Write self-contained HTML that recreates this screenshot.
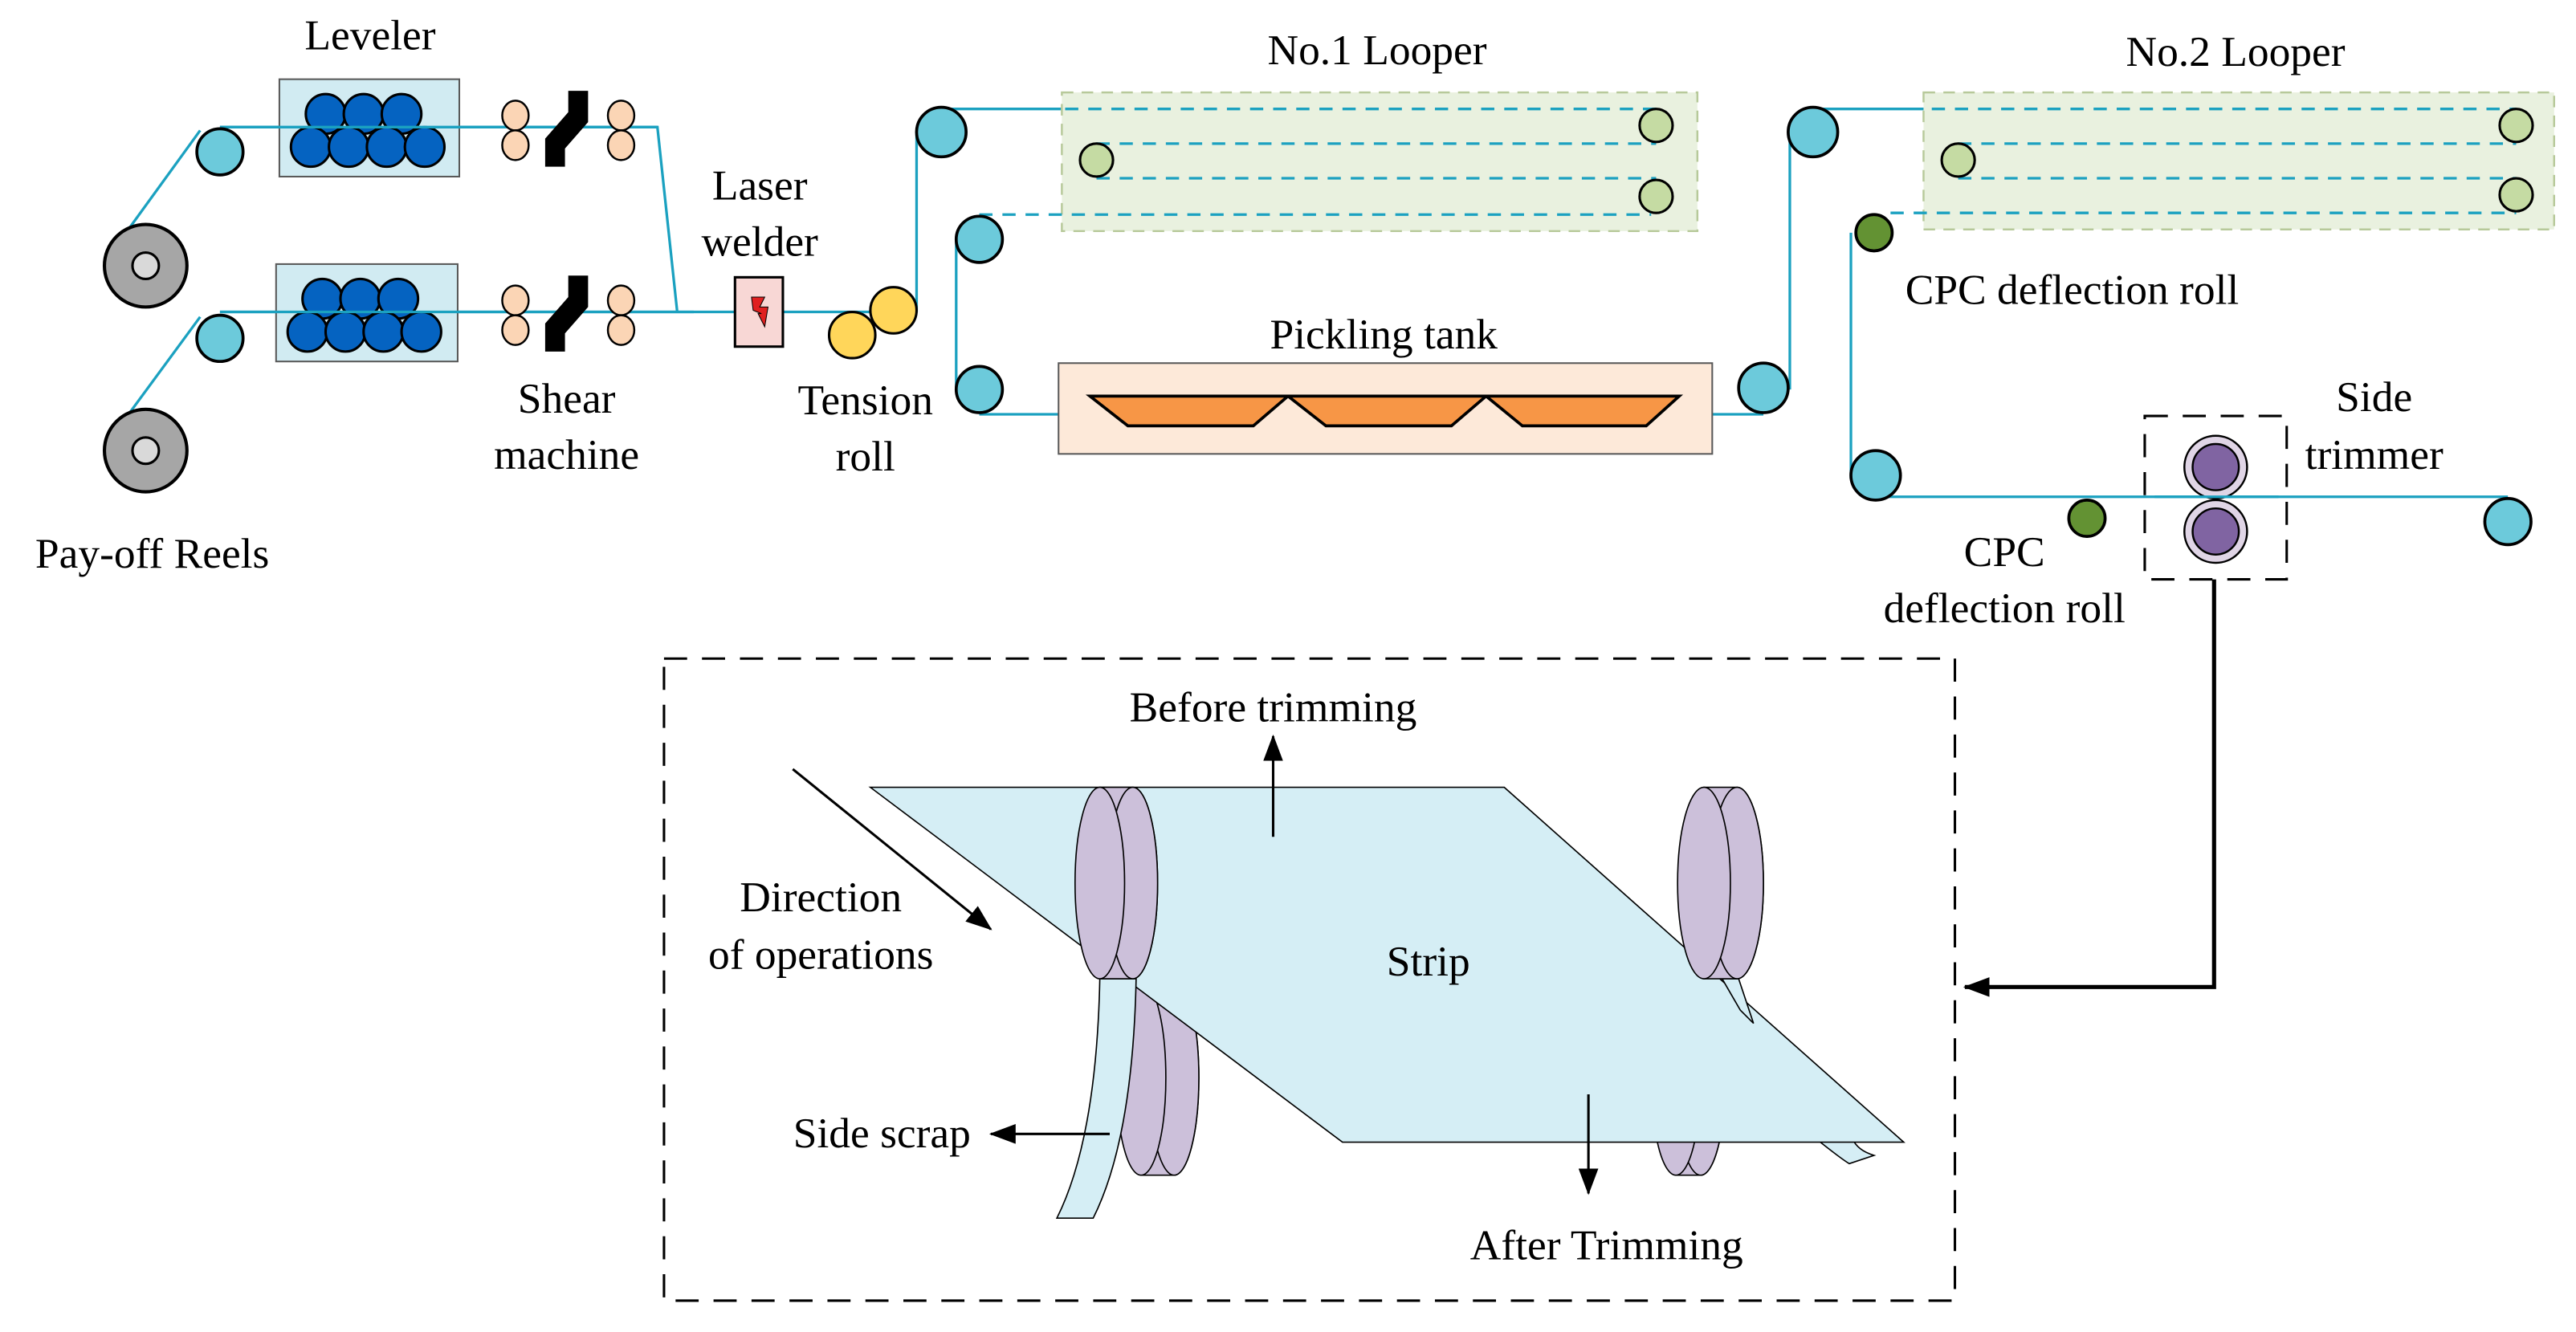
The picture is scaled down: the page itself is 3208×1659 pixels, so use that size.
<!DOCTYPE html>
<html><head><meta charset="utf-8"><style>
html,body{margin:0;padding:0;background:#fff;}
svg{display:block;}
</style></head><body>
<svg width="3208" height="1659" viewBox="0 0 1560 807" xmlns="http://www.w3.org/2000/svg">
<defs>
<marker id="ah2" markerWidth="16" markerHeight="12" refX="15" refY="6" orient="auto" markerUnits="userSpaceOnUse"><path d="M0,0 L16,6 L0,12 Z" fill="#000"/></marker>
</defs>
<g stroke="#1ba1c0" stroke-width="1.6" fill="none">
<line x1="71" y1="148" x2="121" y2="79"/>
<line x1="71" y1="260" x2="121" y2="192"/>
<polyline points="133,77 398,77 410,189"/>
<line x1="133" y1="189" x2="555" y2="189"/>
<line x1="555" y1="189" x2="555" y2="79"/>
<line x1="570" y1="66" x2="645" y2="66"/>
<line x1="579" y1="145" x2="579" y2="237"/>
<line x1="593" y1="251" x2="670" y2="251"/>
<line x1="1005" y1="251" x2="1068" y2="251"/>
<line x1="1084" y1="236" x2="1084" y2="80"/>
<line x1="1098" y1="66" x2="1170" y2="66"/>
<line x1="1121" y1="141" x2="1121" y2="290"/>
<line x1="1136" y1="301" x2="1519" y2="301"/>
</g>
<circle cx="88" cy="161" r="25" fill="#a6a6a6" stroke="#000" stroke-width="2"/>
<circle cx="88" cy="161" r="8" fill="#d9d9d9" stroke="#000" stroke-width="1.5"/>
<circle cx="88" cy="273" r="25" fill="#a6a6a6" stroke="#000" stroke-width="2"/>
<circle cx="88" cy="273" r="8" fill="#d9d9d9" stroke="#000" stroke-width="1.5"/>
<g stroke="#595959" stroke-width="1" fill="#d1ebf2">
<rect x="169" y="48" width="109" height="59"/>
<rect x="167" y="160" width="110" height="59"/>
</g>
<g fill="#0563c1" stroke="#000" stroke-width="1.5">
<circle cx="197" cy="69" r="12"/><circle cx="220" cy="69" r="12"/><circle cx="243" cy="69" r="12"/>
<circle cx="188" cy="89" r="12"/><circle cx="211" cy="89" r="12"/><circle cx="234" cy="89" r="12"/><circle cx="257" cy="89" r="12"/>
<circle cx="195" cy="181" r="12"/><circle cx="218" cy="181" r="12"/><circle cx="241" cy="181" r="12"/>
<circle cx="186" cy="201" r="12"/><circle cx="209" cy="201" r="12"/><circle cx="232" cy="201" r="12"/><circle cx="255" cy="201" r="12"/>
</g>
<g stroke="#1ba1c0" stroke-width="1.6"><line x1="133" y1="77" x2="398" y2="77"/><line x1="133" y1="189" x2="420" y2="189"/></g>
<g fill="#fbd5b5" stroke="#000" stroke-width="1.2">
<ellipse cx="312" cy="70" rx="8" ry="9"/><ellipse cx="312" cy="88" rx="8" ry="9"/>
<ellipse cx="376" cy="70" rx="8" ry="9"/><ellipse cx="376" cy="88" rx="8" ry="9"/>
<ellipse cx="312" cy="182" rx="8" ry="9"/><ellipse cx="312" cy="200" rx="8" ry="9"/>
<ellipse cx="376" cy="182" rx="8" ry="9"/><ellipse cx="376" cy="200" rx="8" ry="9"/>
</g>
<g fill="#000">
<path d="M344,55 L356,55 L356,74 L342,90 L342,101 L330,101 L330,84 L344,68 Z"/>
<path d="M344,167 L356,167 L356,186 L342,202 L342,213 L330,213 L330,196 L344,180 Z"/>
</g>
<rect x="445" y="168" width="29" height="42" fill="#f8d7d5" stroke="#000" stroke-width="1.5"/>
<path d="M455,180 L463,180 L460,186 L465,186 L463,198 L459,190 L461,190 L456,188 Z" fill="#e02020" stroke="#000" stroke-width="0.5"/>
<circle cx="516" cy="203" r="14" fill="#ffd65a" stroke="#000" stroke-width="1.5"/>
<circle cx="541" cy="188" r="14" fill="#ffd65a" stroke="#000" stroke-width="1.5"/>
<rect x="643" y="56" width="385" height="84" fill="#e9f1df" stroke="#b7c99a" stroke-width="1.2" stroke-dasharray="7,5"/>
<g stroke="#1ba1c0" stroke-width="1.6" stroke-dasharray="8,6">
<line x1="645" y1="66" x2="1003" y2="66"/>
<line x1="664" y1="87" x2="1003" y2="87"/>
<line x1="664" y1="108" x2="1003" y2="108"/>
<line x1="593" y1="130" x2="1000" y2="130"/>
</g>
<g fill="#c5dba3" stroke="#000" stroke-width="1.5">
<circle cx="1003" cy="76" r="10"/><circle cx="664" cy="97" r="10"/><circle cx="1003" cy="119" r="10"/>
</g>
<rect x="1165" y="56" width="382" height="83" fill="#e9f1df" stroke="#b7c99a" stroke-width="1.2" stroke-dasharray="7,5"/>
<g stroke="#1ba1c0" stroke-width="1.6" stroke-dasharray="8,6">
<line x1="1170" y1="66" x2="1524" y2="66"/>
<line x1="1186" y1="87" x2="1524" y2="87"/>
<line x1="1186" y1="108" x2="1524" y2="108"/>
<line x1="1145" y1="129" x2="1524" y2="129"/>
</g>
<g fill="#c5dba3" stroke="#000" stroke-width="1.5">
<circle cx="1524" cy="76" r="10"/><circle cx="1186" cy="97" r="10"/><circle cx="1524" cy="118" r="10"/>
</g>
<rect x="641" y="220" width="396" height="55" fill="#fde9d9" stroke="#595959" stroke-width="1"/>
<g fill="#f79646" stroke="#000" stroke-width="1.8">
<path d="M660,240 L780,240 L759,258 L683,258 Z"/>
<path d="M780,240 L900,240 L879,258 L803,258 Z"/>
<path d="M900,240 L1017,240 L997,258 L922,258 Z"/>
</g>
<g fill="#6ccadb" stroke="#000" stroke-width="1.8">
<circle cx="133" cy="92" r="14"/><circle cx="133" cy="205" r="14"/>
<circle cx="570" cy="80" r="15"/><circle cx="593" cy="145" r="14"/><circle cx="593" cy="236" r="14"/>
<circle cx="1068" cy="235" r="15"/><circle cx="1098" cy="80" r="15"/>
<circle cx="1136" cy="288" r="15"/><circle cx="1519" cy="316" r="14"/>
</g>
<g fill="#639233" stroke="#000" stroke-width="1.8">
<circle cx="1135" cy="141" r="11"/><circle cx="1264" cy="314" r="11"/>
</g>
<rect x="1299" y="252" width="86" height="99" fill="none" stroke="#000" stroke-width="1.5" stroke-dasharray="14,9"/>
<g stroke="#000" stroke-width="1.2">
<circle cx="1342" cy="283" r="19" fill="#e0d5e6"/><circle cx="1342" cy="283" r="14" fill="#8064a2"/>
<circle cx="1342" cy="322" r="19" fill="#e0d5e6"/><circle cx="1342" cy="322" r="14" fill="#8064a2"/>
</g>
<line x1="1305" y1="301" x2="1380" y2="301" stroke="#1ba1c0" stroke-width="1.6"/>
<polyline points="1341,351 1341,598 1190,598" fill="none" stroke="#000" stroke-width="2.5" marker-end="url(#ah2)"/>
<rect x="402" y="399" width="782" height="389" fill="none" stroke="#000" stroke-width="1.5" stroke-dasharray="14,9"/>
<g fill="#ccc0da" stroke="#000" stroke-width="0.8">
<path d="M1015,594 L1030,594 A15,59 0 0 1 1030,712 L1015,712 Z"/>
<ellipse cx="1030" cy="653" rx="15" ry="59"/>
<ellipse cx="1015" cy="653" rx="15" ry="59"/>
<path d="M691,594 L711,594 A15,59 0 0 1 711,712 L691,712 Z"/>
<ellipse cx="711" cy="653" rx="15" ry="59"/>
<ellipse cx="691" cy="653" rx="15" ry="59"/>
</g>
<path d="M1100,690 Q1115,702 1120,705 L1135,700 Q1125,697 1122,690 Z" fill="#d5eef5" stroke="#000" stroke-width="0.8"/>
<polygon points="527,477 911,477 1153,692 813,692" fill="#d5eef5" stroke="#000" stroke-width="0.8"/>
<path d="M666,593 L688,593 Q686,690 662,738 L640,738 Q664,690 666,593 Z" fill="#d5eef5" stroke="#000" stroke-width="0.8"/>
<path d="M1043,593 L1053,593 L1062,620 L1054,612 Z" fill="#d5eef5" stroke="#000" stroke-width="0.8"/>
<g fill="#ccc0da" stroke="#000" stroke-width="0.8">
<path d="M666,477 L686,477 A15,58 0 0 1 686,593 L666,593 Z"/>
<ellipse cx="686" cy="535" rx="15" ry="58"/>
<ellipse cx="666" cy="535" rx="15" ry="58"/>
<path d="M1032,477 L1052,477 A16,58 0 0 1 1052,593 L1032,593 Z"/>
<ellipse cx="1052" cy="535" rx="16" ry="58"/>
<ellipse cx="1032" cy="535" rx="16" ry="58"/>
</g>
<g stroke="#000" stroke-width="1.5" fill="none">
<line x1="480" y1="466" x2="600" y2="563" marker-end="url(#ah2)"/>
<line x1="771" y1="507" x2="771" y2="446" marker-end="url(#ah2)"/>
<line x1="962" y1="663" x2="962" y2="723" marker-end="url(#ah2)"/>
<line x1="672" y1="687" x2="600" y2="687" marker-end="url(#ah2)"/>
</g>
<g font-size="26" font-family="'Liberation Serif', 'DejaVu Serif', serif" fill="#000">
<text x="224" y="30" text-anchor="middle">Leveler</text>
<text x="343" y="250" text-anchor="middle">Shear</text>
<text x="343" y="284" text-anchor="middle">machine</text>
<text x="460" y="121" text-anchor="middle">Laser</text>
<text x="460" y="155" text-anchor="middle">welder</text>
<text x="524" y="251" text-anchor="middle">Tension</text>
<text x="524" y="285" text-anchor="middle">roll</text>
<text x="92" y="344" text-anchor="middle">Pay-off Reels</text>
<text x="834" y="39" text-anchor="middle">No.1 Looper</text>
<text x="1354" y="40" text-anchor="middle">No.2 Looper</text>
<text x="838" y="211" text-anchor="middle">Pickling tank</text>
<text x="1255" y="184" text-anchor="middle">CPC deflection roll</text>
<text x="1438" y="249" text-anchor="middle">Side</text>
<text x="1438" y="284" text-anchor="middle">trimmer</text>
<text x="1214" y="343" text-anchor="middle">CPC</text>
<text x="1214" y="377" text-anchor="middle">deflection roll</text>
<text x="771" y="437" text-anchor="middle">Before trimming</text>
<text x="497" y="552" text-anchor="middle">Direction</text>
<text x="497" y="587" text-anchor="middle">of operations</text>
<text x="865" y="591" text-anchor="middle">Strip</text>
<text x="534" y="695" text-anchor="middle">Side scrap</text>
<text x="973" y="763" text-anchor="middle">After Trimming</text>
</g>
</svg>
</body></html>
